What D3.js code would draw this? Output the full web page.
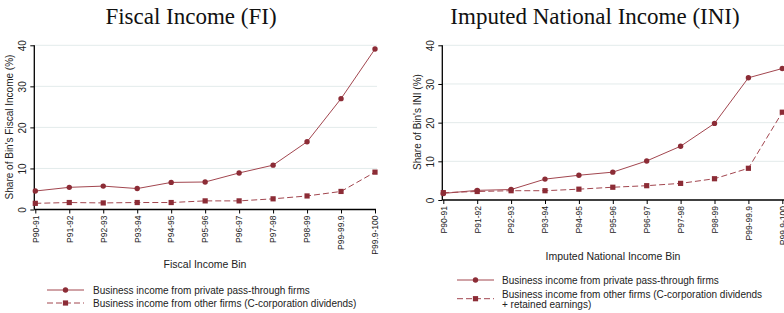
<!DOCTYPE html>
<html>
<head>
<meta charset="utf-8">
<script src="https://cdn.jsdelivr.net/npm/d3@7"></script>
<style>
  body { margin: 0; background: #fff; }
  svg { display: block; }
  .tick text, .lbl { font-family: "Liberation Sans", Arial, sans-serif; fill: #222; }
  .title { font-family: "Liberation Serif", "DejaVu Serif", serif; fill: #111; }
</style>
</head>
<body>
<svg id="chart" width="784" height="313"></svg>
<script>
// data
const bins = ["P90-91", "P91-92", "P92-93", "P93-94", "P94-95", "P95-96", "P96-97", "P97-98", "P98-99", "P99-99.9", "P99.9-100"];
const yTicks = [0, 10, 20, 30, 40];

const fiPassThrough = [4.5, 5.4, 5.7, 5.1, 6.6, 6.7, 8.9, 10.8, 16.5, 27.0, 39.1];
const fiOtherFirms  = [1.5, 1.7, 1.6, 1.7, 1.7, 2.1, 2.1, 2.6, 3.3, 4.4, 9.1];

const iniPassThrough = [1.7, 2.5, 2.7, 5.4, 6.4, 7.2, 10.1, 13.9, 19.8, 31.6, 34.0];
const iniOtherFirms  = [1.9, 2.2, 2.4, 2.4, 2.8, 3.3, 3.7, 4.3, 5.5, 8.2, 22.7];

const RED = "#8c2c36";
const LINE = "#a2464f";
const GRID = "#e3ebeb";

const svg = d3.select("#chart");

// one panel = title, axes, two series, legend
function drawPanel(cfg) {
    const x = d3.scalePoint().domain(bins).range([cfg.x0, cfg.x1]);
    const y = d3.scaleLinear().domain([0, 40]).range([cfg.y0, 45.3]);
    const g = svg.append("g");

    // gridlines
    g.selectAll(".grid")
        .data(yTicks.filter(d => d > 0))
        .join("line")
        .attr("x1", cfg.axisX).attr("x2", cfg.gridEnd)
        .attr("y1", d => y(d)).attr("y2", d => y(d))
        .attr("stroke", GRID).attr("stroke-width", 1);

    // y axis
    const yAxisG = g.append("g")
        .attr("transform", `translate(${cfg.axisX},0)`)
        .call(d3.axisLeft(y).tickValues(yTicks).tickSize(4).tickSizeOuter(0));
    yAxisG.select(".domain").attr("stroke", "#000").attr("stroke-width", 1.3)
        .attr("d", `M0,${y(0)}V${y(40)}`);
    yAxisG.selectAll(".tick line").attr("stroke", "#000");
    // labels read bottom-to-top, centred on the tick
    yAxisG.selectAll(".tick text")
        .attr("font-size", 10)
        .attr("text-anchor", "middle")
        .attr("x", 0).attr("y", 3.5).attr("dy", 0)
        .attr("transform", "translate(-12,0) rotate(-90)");

    // x axis
    const xAxisG = g.append("g")
        .attr("transform", `translate(0,${cfg.y0})`)
        .call(d3.axisBottom(x).tickSize(4).tickSizeOuter(0));
    xAxisG.select(".domain").attr("stroke", "#000").attr("stroke-width", 1.3)
        .attr("d", `M${cfg.axisX},0H${cfg.axisEnd}`);
    xAxisG.selectAll(".tick line").attr("stroke", "#000");
    xAxisG.selectAll(".tick text")
        .attr("font-size", 8.5)
        .attr("text-anchor", "end")
        .attr("transform", "rotate(-90)")
        .attr("x", -6).attr("y", 0).attr("dy", "0.33em");

    // axis titles
    g.append("text").attr("class", "lbl")
        .attr("font-size", 10)
        .attr("text-anchor", "middle")
        .attr("transform", `translate(${cfg.yTitleX},${cfg.yTitleY}) rotate(-90)`)
        .text(cfg.yTitle);
    g.append("text").attr("class", "lbl")
        .attr("font-size", 10.5)
        .attr("text-anchor", "middle")
        .attr("x", cfg.xTitleX).attr("y", cfg.xTitleY)
        .text(cfg.xTitle);

    // panel title
    g.append("text").attr("class", "title")
        .attr("font-size", 23)
        .attr("text-anchor", "middle")
        .attr("x", cfg.titleX).attr("y", 24)
        .text(cfg.title);

    const line = d3.line().x((d, i) => x(bins[i])).y(d => y(d));

    // series 2: dashed, squares
    g.append("path").datum(cfg.s2)
        .attr("d", line).attr("fill", "none")
        .attr("stroke", LINE).attr("stroke-width", 1)
        .attr("stroke-dasharray", "6,3");
    g.selectAll(".sq").data(cfg.s2).join("rect")
        .attr("x", (d, i) => x(bins[i]) - 2.6).attr("y", d => y(d) - 2.6)
        .attr("width", 5.2).attr("height", 5.2).attr("fill", RED);

    // series 1: solid, circles
    g.append("path").datum(cfg.s1)
        .attr("d", line).attr("fill", "none")
        .attr("stroke", LINE).attr("stroke-width", 1);
    g.selectAll(".dot").data(cfg.s1).join("circle")
        .attr("cx", (d, i) => x(bins[i])).attr("cy", d => y(d))
        .attr("r", 2.7).attr("fill", RED);

    // legend
    const lg = g.append("g");
    const items = [
        {dash: null, shape: "circle", y: cfg.leg[0], lines: cfg.legText[0], ty: cfg.legTextY[0]},
        {dash: "6,3", shape: "square", y: cfg.leg[1], lines: cfg.legText[1], ty: cfg.legTextY[1]}
    ];
    items.forEach(it => {
        lg.append("line")
            .attr("x1", cfg.legX0).attr("x2", cfg.legX1)
            .attr("y1", it.y).attr("y2", it.y)
            .attr("stroke", LINE).attr("stroke-width", 1)
            .attr("stroke-dasharray", it.dash);
        const mx = (cfg.legX0 + cfg.legX1) / 2;
        if (it.shape === "circle") {
            lg.append("circle").attr("cx", mx).attr("cy", it.y).attr("r", 2.7).attr("fill", RED);
        } else {
            lg.append("rect").attr("x", mx - 2.6).attr("y", it.y - 2.6)
                .attr("width", 5.2).attr("height", 5.2).attr("fill", RED);
        }
        it.lines.forEach((t, k) => {
            lg.append("text").attr("class", "lbl")
                .attr("font-size", 10)
                .attr("x", cfg.legTextX).attr("y", it.ty[k])
                .attr("dy", "0.35em")
                .text(t);
        });
    });
}

drawPanel({
    title: "Fiscal Income (FI)", titleX: 191,
    x0: 35.3, x1: 375, axisX: 34.3, axisEnd: 376, gridEnd: 377, y0: 209.5,
    s1: fiPassThrough, s2: fiOtherFirms,
    yTitle: "Share of Bin's Fiscal Income (%)", yTitleX: 13, yTitleY: 127,
    xTitle: "Fiscal Income Bin", xTitleX: 205, xTitleY: 268,
    legX0: 47, legX1: 84, legTextX: 93,
    leg: [290, 303], legTextY: [[290], [303]],
    legText: [["Business income from private pass-through firms"],
              ["Business income from other firms (C-corporation dividends)"]]
});

drawPanel({
    title: "Imputed National Income (INI)", titleX: 595,
    x0: 443.3, x1: 782.3, axisX: 442.3, axisEnd: 784, gridEnd: 784, y0: 200,
    s1: iniPassThrough, s2: iniOtherFirms,
    yTitle: "Share of Bin's INI (%)", yTitleX: 421, yTitleY: 122,
    xTitle: "Imputed National Income Bin", xTitleX: 613, xTitleY: 260,
    legX0: 457, legX1: 494, legTextX: 502,
    leg: [280, 298.7], legTextY: [[280], [294, 304.5]],
    legText: [["Business income from private pass-through firms"],
              ["Business income from other firms (C-corporation dividends", "+ retained earnings)"]]
});
</script>
</body>
</html>
